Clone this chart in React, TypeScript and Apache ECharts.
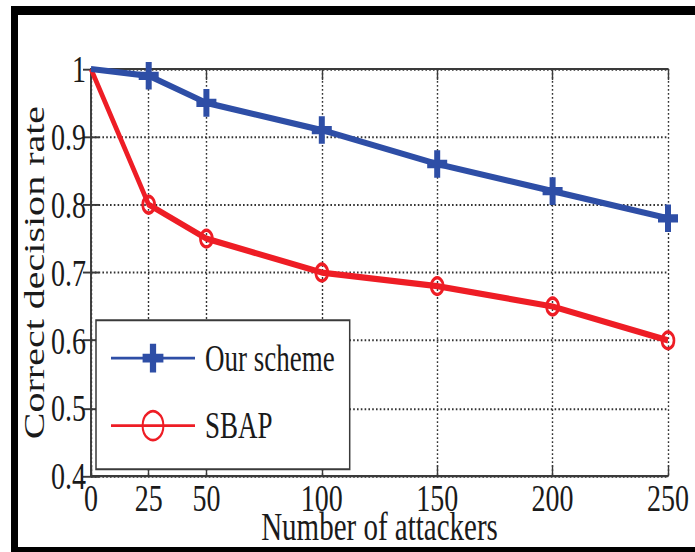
import React, { useEffect, useRef } from "react";
import * as echarts from "echarts";

const xValues = [0, 25, 50, 100, 150, 200, 250];
const xTickLabels = ["0", "25", "50", "100", "150", "200", "250"];
const yTickValues = [0.4, 0.5, 0.6, 0.7, 0.8, 0.9, 1];
const ourScheme = [1, 0.99, 0.95, 0.91, 0.86, 0.82, 0.78];
const sbap = [1, 0.8, 0.75, 0.7, 0.68, 0.65, 0.6];
const seriesNames = ["Our scheme", "SBAP"];

const STRETCH = 1.38;
const W = 695;
const H = 552 / STRETCH;
const FONT = "Liberation Serif";
const BLUE = "#2e4ea6";
const RED = "#ee1d25";
const TXT = "#1a1a1a";
const FRAME = "#3a3a3a";

const plusPath = "path://M7,0h6v7h7v6h-7v7h-6v-7h-7v-6h7z";

function build(vals: number[]) {
  return xValues.map((x, i) =>
    i === 0 ? { value: [x, vals[i]], symbol: "none" } : { value: [x, vals[i]] }
  );
}

export default function App() {
  const ref = useRef<HTMLDivElement>(null);
  useEffect(() => {
    if (!ref.current) return;
    const chart = echarts.init(ref.current, undefined, { renderer: "svg" });
    const axisCommon = {
      type: "value",
      axisLine: { show: true, lineStyle: { color: FRAME, width: 1.6 } },
      axisTick: { show: true, inside: true, length: 8, lineStyle: { color: FRAME, width: 1.4 } },
    };
    chart.setOption({
      animation: false,
      backgroundColor: "#fff",
      grid: {
        left: 91,
        right: W - 668,
        top: 50,
        bottom: H - 345,
        containLabel: false,
        outerBoundsMode: "none",
      },
      xAxis: [
        {
          ...axisCommon,
          min: 0,
          max: 250,
          position: "bottom",
          axisTick: { ...axisCommon.axisTick, customValues: xValues },
          axisLabel: {
            customValues: xValues,
            formatter: (v: number) => xTickLabels[xValues.indexOf(v)] ?? "",
            fontFamily: FONT,
            fontSize: 28,
            lineHeight: 20,
            color: TXT,
            margin: 6,
          },
          splitLine: {
            show: true,
            lineStyle: { type: [1.3, 1.6], color: "#333", width: 1.4 },
          },
          name: "Number of attackers",
          nameLocation: "middle",
          nameGap: 27,
          nameMoveOverlap: false,
          nameTextStyle: { fontFamily: FONT, fontSize: 29, lineHeight: 20, color: TXT },
        },
        {
          ...axisCommon,
          min: 0,
          max: 250,
          position: "top",
          axisTick: { ...axisCommon.axisTick, customValues: xValues },
          axisLabel: { show: false },
          splitLine: { show: false },
        },
      ],
      yAxis: [
        {
          ...axisCommon,
          min: 0.4,
          max: 1,
          interval: 0.1,
          position: "left",
          axisLabel: {
            formatter: (v: number) => {
              const i = yTickValues.findIndex((t) => Math.abs(t - v) < 1e-6);
              return i >= 0 ? String(yTickValues[i]) : "";
            },
            fontFamily: FONT,
            fontSize: 28,
            color: TXT,
            margin: 5,
          },
          splitLine: {
            show: true,
            lineStyle: { type: [1.6, 2.2], color: "#333", width: 1.4 },
          },
          name: "Correct decision rate",
          nameLocation: "middle",
          nameGap: 42,
          nameMoveOverlap: false,
          nameTextStyle: { fontFamily: FONT, fontSize: 29, color: TXT },
        },
        {
          ...axisCommon,
          min: 0.4,
          max: 1,
          interval: 0.1,
          position: "right",
          axisLabel: { show: false },
          splitLine: { show: false },
        },
      ],
      legend: {
        orient: "vertical",
        left: 96,
        top: 232,
        padding: [14, 15, 18, 14],
        itemGap: 22,
        itemWidth: 84,
        itemHeight: 26,
        backgroundColor: "#fff",
        borderColor: FRAME,
        borderWidth: 1.5,
        borderRadius: 0,
        textStyle: { fontFamily: FONT, fontSize: 27, color: TXT, padding: [0, 0, 0, 5] },
        data: seriesNames,
      },
      graphic: [
        { type: "rect", shape: { x: 11, y: 4.3, width: 684, height: 6.5 }, style: { fill: "#000" }, z: 100 },
        { type: "rect", shape: { x: 11, y: 4.3, width: 7, height: 400 }, style: { fill: "#000" }, z: 100 },
        { type: "rect", shape: { x: 11, y: 396.4, width: 684, height: 5 }, style: { fill: "#000" }, z: 100 },
      ],
      series: [
        {
          name: seriesNames[0],
          type: "line",
          data: build(ourScheme),
          symbol: plusPath,
          symbolSize: 20,
          color: BLUE,
          itemStyle: { color: BLUE },
          lineStyle: { color: BLUE, width: 4.5 },
          clip: false,
          z: 3,
        },
        {
          name: seriesNames[1],
          type: "line",
          data: build(sbap),
          symbol: "circle",
          symbolSize: 12,
          color: RED,
          itemStyle: { color: "rgba(255,255,255,0)", borderColor: RED, borderWidth: 2.6 },
          lineStyle: { color: RED, width: 4.5 },
          clip: false,
          z: 2,
        },
      ],
    });
    return () => chart.dispose();
  }, []);

  return (
    <div
      style={{
        position: "fixed",
        left: 0,
        top: 0,
        width: W,
        height: 552,
        overflow: "hidden",
        background: "#fff",
      }}
    >
      <div
        ref={ref}
        style={{
          width: W,
          height: H,
          transform: `scaleY(${STRETCH})`,
          transformOrigin: "0 0",
        }}
      />
    </div>
  );
}
